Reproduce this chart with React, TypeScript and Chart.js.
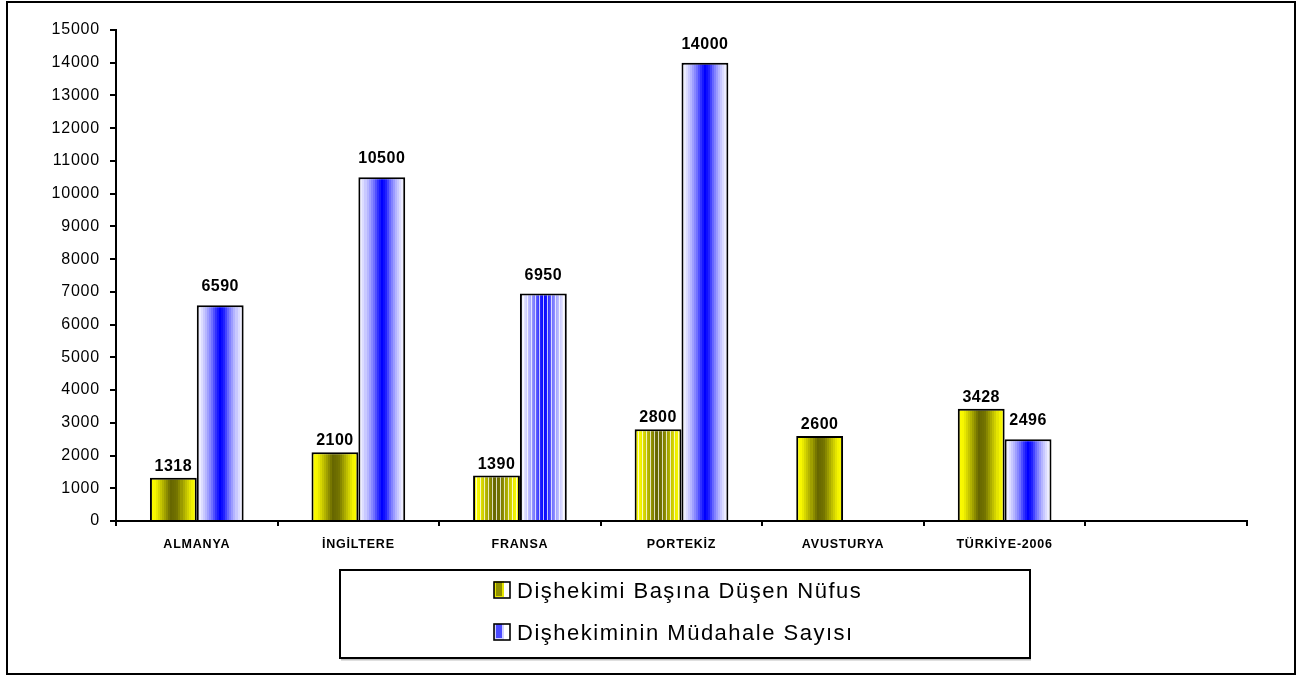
import React, { useEffect, useRef } from 'react';
import { Chart, registerables } from 'chart.js';

Chart.register(...registerables);

// ---------- DATA ----------
const categories = ['ALMANYA', 'İNGİLTERE', 'FRANSA', 'PORTEKİZ', 'AVUSTURYA', 'TÜRKİYE-2006', ''];
const populationPerDentist = [1318, 2100, 1390, 2800, 2600, 3428, null];
const dentistInterventions = [6590, 10500, 6950, 14000, null, 2496, null];
const seriesLabels = ['Dişhekimi Başına Düşen Nüfus', 'Dişhekiminin Müdahale Sayısı'];
const yMin = 0;
const yMax = 15000;
const yStep = 1000;

// ---------- STYLE ----------
const W = 1303;
const H = 676;
const FONT = 'Arial, "Liberation Sans", sans-serif';
const CAT_PCT = 0.58;
const YELLOW_STOPS: [number, string][] = [
  [0, '#ffff00'], [0.12, '#f6f600'], [0.3, '#acac00'], [0.45, '#666600'],
  [0.58, '#727200'], [0.75, '#baba00'], [0.88, '#f2f200'], [1, '#ffff00'],
];
const BLUE_STOPS: [number, string][] = [
  [0, '#ffffff'], [0.08, '#e8e8ff'], [0.2, '#b4b4ff'], [0.32, '#7474ff'],
  [0.42, '#2c2cff'], [0.5, '#0000ff'], [0.58, '#1c1cff'], [0.68, '#6c6cff'],
  [0.8, '#b2b2ff'], [0.92, '#e8e8ff'], [1, '#ffffff'],
];
// categories drawn with Excel-like vertical striping, per series
const STRIPED: number[][] = [[2, 3], [2]];
const LABEL_GAP = [7, 14];

function hexRgb(h: string): number[] {
  const n = parseInt(h.slice(1), 16);
  return [(n >> 16) & 255, (n >> 8) & 255, n & 255];
}

function sample(stops: [number, string][], t: number): number[] {
  for (let i = 0; i < stops.length - 1; i++) {
    const [t0, c0] = stops[i];
    const [t1, c1] = stops[i + 1];
    if (t >= t0 && t <= t1) {
      const f = (t - t0) / (t1 - t0 || 1);
      const a = hexRgb(c0);
      const b = hexRgb(c1);
      return a.map((v, k) => Math.round(v + (b[k] - v) * f));
    }
  }
  return hexRgb(stops[stops.length - 1][1]);
}

function barFill(ctx: any, di: number) {
  const chart = ctx.chart;
  const xs = chart.scales && chart.scales.x;
  if (ctx.type !== 'data' || !xs || !chart.chartArea) return di === 0 ? '#cccc00' : '#6666ff';
  const center = xs.getPixelForValue(ctx.dataIndex);
  const catW = (xs.right - xs.left) / categories.length;
  const barW = (catW * CAT_PCT) / 2;
  const left = di === 0 ? center - barW : center;
  const g = chart.ctx.createLinearGradient(left, 0, left + barW, 0);
  const stops = di === 0 ? YELLOW_STOPS : BLUE_STOPS;
  const striped = STRIPED[di].includes(ctx.dataIndex);
  const n = Math.max(2, Math.round(striped ? barW : barW / 2));
  for (let i = 0; i < n; i++) {
    const t0 = i / n;
    const t1 = (i + 1) / n;
    let c = sample(stops, (i + 0.5) / n);
    if (striped && i % 4 === 3) c = c.map((v) => Math.round(v + (255 - v) * 0.75));
    const s = `rgb(${c[0]},${c[1]},${c[2]})`;
    g.addColorStop(t0, s);
    g.addColorStop(Math.max(t0, t1 - 0.0001), s);
  }
  return g;
}

const spacingPlugin = {
  id: 'spacing',
  beforeDraw(chart: any) {
    chart.ctx.letterSpacing = '0.8px';
  },
  afterDraw(chart: any) {
    chart.ctx.letterSpacing = '0px';
  },
};

const dataLabelPlugin = {
  id: 'dataLabels',
  afterDatasetsDraw(chart: any) {
    const ctx = chart.ctx;
    ctx.save();
    ctx.font = `bold 16px ${FONT}`;
    ctx.letterSpacing = '0.5px';
    ctx.fillStyle = '#000';
    ctx.textAlign = 'center';
    ctx.textBaseline = 'alphabetic';
    chart.data.datasets.forEach((ds: any, di: number) => {
      const meta = chart.getDatasetMeta(di);
      meta.data.forEach((el: any, i: number) => {
        const v = ds.data[i];
        if (v == null) return;
        ctx.fillText(String(v), el.x, el.y - LABEL_GAP[di]);
      });
    });
    ctx.restore();
  },
};

const frameLegendPlugin = {
  id: 'frameLegend',
  afterDraw(chart: any) {
    const ctx = chart.ctx;
    ctx.save();
    ctx.letterSpacing = '0px';
    ctx.strokeStyle = '#000';
    ctx.lineWidth = 2;
    ctx.strokeRect(7, 2, W - 15, H - 4);
    // legend box
    const bx = 340, by = 570, bw = 690, bh = 88;
    ctx.fillStyle = 'rgba(0,0,0,0.25)';
    ctx.fillRect(bx + 1, by + bh + 1, bw, 1.5);
    ctx.strokeRect(bx, by, bw, bh);
    const rows = [598, 640];
    const markerFill = ['#8f8f00', '#4a4aff'];
    const markerEdge = ['#e6e600', '#d0d0ff'];
    seriesLabels.forEach((label, i) => {
      const base = rows[i];
      const mx = 494, my = base - 16;
      ctx.fillStyle = '#fff';
      ctx.fillRect(mx, my, 16, 16);
      ctx.fillStyle = markerEdge[i];
      ctx.fillRect(mx, my - (i === 0 ? 1 : 0), 10, 16);
      ctx.fillStyle = markerFill[i];
      ctx.fillRect(mx + 2, my, 6, 14);
      ctx.strokeStyle = '#000';
      ctx.lineWidth = 1.6;
      ctx.strokeRect(mx, my, 16, 16);
      ctx.fillStyle = '#000';
      ctx.font = `22px ${FONT}`;
      ctx.letterSpacing = '1.5px';
      ctx.textAlign = 'left';
      ctx.textBaseline = 'alphabetic';
      ctx.fillText(label, 517, base);
      ctx.letterSpacing = '0px';
    });
    ctx.restore();
  },
};

export default function App() {
  const ref = useRef<HTMLCanvasElement | null>(null);

  useEffect(() => {
    const canvas = ref.current;
    if (!canvas) return;
    const chart = new Chart(canvas, {
      type: 'bar',
      data: {
        labels: categories,
        datasets: [
          {
            label: seriesLabels[0],
            data: populationPerDentist,
            backgroundColor: (c: any) => barFill(c, 0),
            borderColor: '#000',
            borderWidth: 2,
            categoryPercentage: CAT_PCT,
            barPercentage: 1,
          },
          {
            label: seriesLabels[1],
            data: dentistInterventions,
            backgroundColor: (c: any) => barFill(c, 1),
            borderColor: '#000',
            borderWidth: 2,
            categoryPercentage: CAT_PCT,
            barPercentage: 1,
          },
        ],
      },
      options: {
        responsive: false,
        animation: false,
        devicePixelRatio: 1,
        layout: { padding: { left: 0, right: 56, top: 30, bottom: 115 } },
        plugins: {
          legend: { display: false },
          tooltip: { enabled: false },
        },
        scales: {
          x: {
            grid: {
              display: true,
              drawOnChartArea: false,
              drawTicks: true,
              tickLength: 5,
              color: '#000',
              lineWidth: 2,
              offset: true,
            },
            border: { display: true, color: '#000', width: 2 },
            ticks: {
              color: '#000',
              font: { family: FONT, size: 12.5, weight: 'bold' },
              padding: 11,
              maxRotation: 0,
              autoSkip: false,
            },
            afterFit: (s: any) => {
              s.height = 40;
            },
          },
          y: {
            min: yMin,
            max: yMax,
            grid: {
              display: true,
              drawOnChartArea: false,
              drawTicks: true,
              tickLength: 6,
              color: '#000',
              lineWidth: 2,
            },
            border: { display: true, color: '#000', width: 2 },
            ticks: {
              stepSize: yStep,
              color: '#000',
              font: { family: FONT, size: 16 },
              padding: 10,
              callback: (v: any) => String(v),
            },
            afterFit: (s: any) => {
              s.width = 116;
            },
          },
        },
      },
      plugins: [spacingPlugin, dataLabelPlugin, frameLegendPlugin],
    } as any);
    return () => chart.destroy();
  }, []);

  return (
    <div style={{ position: 'absolute', left: 0, top: 0, width: W, height: H, background: '#fff' }}>
      <canvas ref={ref} width={W} height={H} style={{ display: 'block', width: W, height: H }} />
    </div>
  );
}
